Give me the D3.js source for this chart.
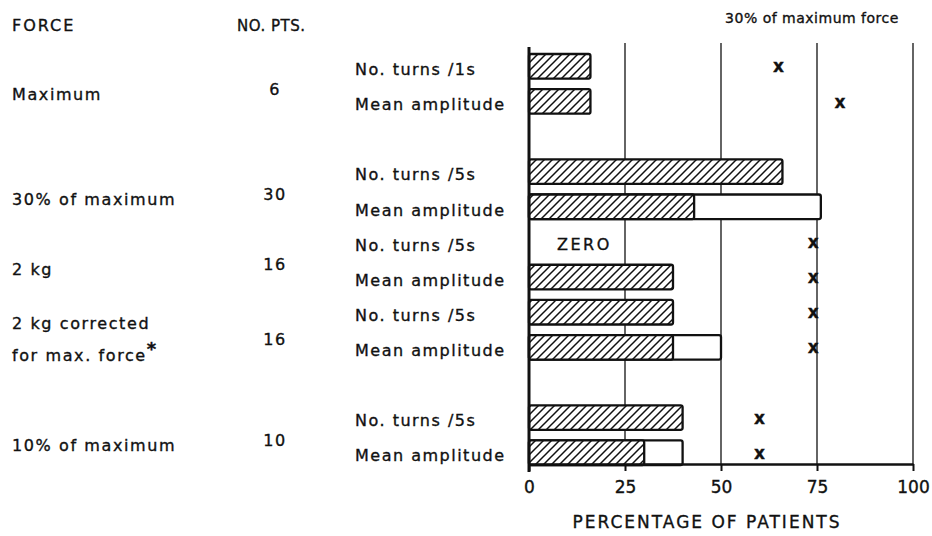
<!DOCTYPE html>
<html>
<head>
<meta charset="utf-8">
<script src="https://cdn.jsdelivr.net/npm/d3@7"></script>
<style>
  html, body { margin: 0; padding: 0; background: #fff; }
  svg { display: block; }
  text { font-family: "DejaVu Sans", sans-serif; fill: #111; stroke: #111; stroke-width: 0.35; }
</style>
</head>
<body>
<div id="chart"></div>
<script>
// Force conditions, one group of two rows each
const forces = ['Maximum', '30% of maximum', '2 kg', '2 kg corrected|for max. force', '10% of maximum'];
const noPts = [6, 30, 16, 16, 10];
const turnsLabels = ['No. turns /1s', 'No. turns /5s', 'No. turns /5s', 'No. turns /5s', 'No. turns /5s'];
const ampLabel = 'Mean amplitude';

// percentage of patients (hatched part), null = ZERO
const turnsPct = [16, 66, null, 37.5, 40];
const ampPct = [16, 43, 37.5, 37.5, 30];
// open extension of the bar (upper value), null = none
const ampUpper = [null, 76, null, 50, 40];
// "x" markers: 30% of maximum force
const turnsMark = [65, null, 74, 74, 60];
const ampMark = [81, null, 74, 74, 60];
// blank slot after these groups
const gapAfter = [0, 3];

const xTicks = [0, 25, 50, 75, 100];

const W = 932, H = 536;
const svg = d3.select('#chart').append('svg')
    .attr('width', W).attr('height', H);

// hatch pattern
const defs = svg.append('defs');
const pat = defs.append('pattern')
    .attr('id', 'hatch')
    .attr('patternUnits', 'userSpaceOnUse')
    .attr('width', 8).attr('height', 8);
pat.append('rect').attr('width', 8).attr('height', 8).attr('fill', '#fff');
pat.append('path')
    .attr('d', 'M-2,2 l4,-4 M0,8 l8,-8 M6,10 l4,-4')
    .attr('stroke', '#111')
    .attr('stroke-width', 1.5);

// build row list
const rows = [];
forces.forEach((f, i) => {
    rows.push({ key: `t${i}`, group: i, label: turnsLabels[i], value: turnsPct[i], upper: null, mark: turnsMark[i] });
    rows.push({ key: `a${i}`, group: i, label: ampLabel, value: ampPct[i], upper: ampUpper[i], mark: ampMark[i] });
    if (gapAfter.includes(i)) rows.push({ key: `gap${i}`, gap: true });
});

const x = d3.scaleLinear().domain([0, 100]).range([529, 913]);
const y = d3.scaleBand()
    .domain(rows.map(d => d.key))
    .range([54, 465])
    .paddingInner(0.3)
    .paddingOuter(0);

const axisY = 464;
const dataRows = rows.filter(d => !d.gap);

// gridlines
svg.append('g').selectAll('line')
    .data(xTicks.slice(1))
    .join('line')
    .attr('x1', d => x(d)).attr('x2', d => x(d))
    .attr('y1', 43).attr('y2', axisY)
    .attr('stroke', '#111').attr('stroke-width', 1.3);

// bars: open extension first, then hatched part
svg.append('g').selectAll('rect')
    .data(dataRows.filter(d => d.upper != null))
    .join('rect')
    .attr('x', x(0))
    .attr('y', d => y(d.key))
    .attr('width', d => x(d.upper) - x(0))
    .attr('height', y.bandwidth())
    .attr('rx', 2)
    .attr('fill', '#fff')
    .attr('stroke', '#111')
    .attr('stroke-width', 2.3);

svg.append('g').selectAll('rect')
    .data(dataRows.filter(d => d.value != null))
    .join('rect')
    .attr('x', x(0))
    .attr('y', d => y(d.key))
    .attr('width', d => x(d.value) - x(0))
    .attr('height', y.bandwidth())
    .attr('rx', 2)
    .attr('fill', 'url(#hatch)')
    .attr('stroke', '#111')
    .attr('stroke-width', 2.3);

// ZERO label
svg.append('g').selectAll('text')
    .data(dataRows.filter(d => d.value == null))
    .join('text')
    .attr('x', x(0) + 28)
    .attr('y', d => y(d.key) + y.bandwidth() / 2 + 2)
    .attr('dy', '0.36em')
    .attr('font-size', 16)
    .attr('letter-spacing', 2.5)
    .text('ZERO');

// x markers
svg.append('g').selectAll('text')
    .data(dataRows.filter(d => d.mark != null))
    .join('text')
    .attr('x', d => x(d.mark))
    .attr('y', d => y(d.key) + y.bandwidth() / 2)
    .attr('dy', '0.36em')
    .attr('text-anchor', 'middle')
    .attr('font-size', 17)
    .attr('font-weight', 'bold')
    .text('x');

// left axis line
svg.append('line')
    .attr('x1', x(0)).attr('x2', x(0))
    .attr('y1', 47).attr('y2', axisY + 8)
    .attr('stroke', '#111').attr('stroke-width', 3);

// bottom axis
const xAxis = d3.axisBottom(x).tickValues(xTicks).tickSize(7).tickSizeOuter(0).tickPadding(10);
const gx = svg.append('g')
    .attr('transform', `translate(0,${axisY})`)
    .call(xAxis);
gx.select('.domain').attr('stroke', '#111').attr('stroke-width', 2.5);
gx.selectAll('.tick line').attr('stroke', '#111').attr('stroke-width', 2);
gx.selectAll('.tick text')
    .attr('font-family', '"DejaVu Sans", sans-serif')
    .attr('font-size', 17)
    .attr('fill', '#111');

svg.append('text')
    .attr('x', 707).attr('y', 528)
    .attr('text-anchor', 'middle')
    .attr('font-size', 17)
    .attr('letter-spacing', 2)
    .text('PERCENTAGE OF PATIENTS');

svg.append('text')
    .attr('x', 812).attr('y', 23)
    .attr('text-anchor', 'middle')
    .attr('font-size', 14)
    .attr('letter-spacing', 0.5)
    .text('30% of maximum force');

// row labels
svg.append('g').selectAll('text')
    .data(dataRows)
    .join('text')
    .attr('x', 355)
    .attr('y', d => y(d.key) + y.bandwidth() / 2 + 3)
    .attr('dy', '0.36em')
    .attr('font-size', 16)
    .attr('letter-spacing', 1.5)
    .text(d => d.label);

// column headers
svg.append('text').attr('x', 12).attr('y', 31)
    .attr('font-size', 16).attr('letter-spacing', 2).text('FORCE');
svg.append('text').attr('x', 237).attr('y', 31)
    .attr('font-size', 15).attr('letter-spacing', 0.5).text('NO. PTS.');

// force group labels + counts
const groupMid = i => (y(`t${i}`) + y(`a${i}`) + y.bandwidth()) / 2;
forces.forEach((f, i) => {
    const lines = f.split('|');
    const t = svg.append('text')
        .attr('x', 12)
        .attr('font-size', 16)
        .attr('letter-spacing', 1.6);
    if (lines.length === 1) {
        t.attr('y', groupMid(i) + 10).attr('dy', '0.36em').text(f);
    } else {
        lines.forEach((ln, j) => {
            t.append('tspan')
                .attr('x', 12)
                .attr('y', groupMid(i) - 7 + j * 32)
                .attr('dy', '0.36em')
                .text(ln);
        });
        // superscript asterisk
        t.append('tspan')
            .attr('dy', '-0.3em')
            .attr('font-size', 18)
            .attr('font-weight', 'bold')
            .text('*');
    }
    svg.append('text')
        .attr('x', 275)
        .attr('y', groupMid(i) + (lines.length > 1 ? 9 : 5))
        .attr('dy', '0.36em')
        .attr('text-anchor', 'middle')
        .attr('font-size', 16)
        .attr('letter-spacing', 1.5)
        .text(noPts[i]);
});
</script>
</body>
</html>
